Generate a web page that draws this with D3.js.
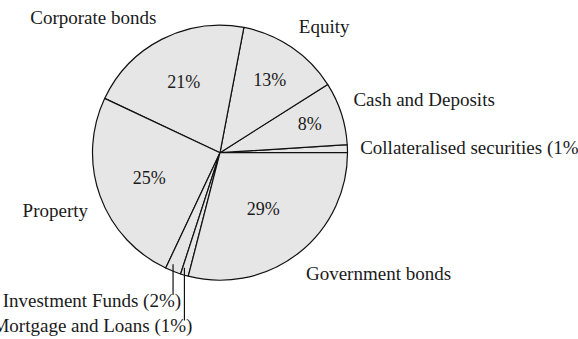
<!DOCTYPE html>
<html>
<head>
<meta charset="utf-8">
<script src="https://cdn.jsdelivr.net/npm/d3@7"></script>
<style>
  html, body { margin: 0; padding: 0; background: #fff; }
  svg { display: block; }
  text { font-family: "Liberation Serif", "Times New Roman", serif; fill: #1a1a1a; }
</style>
</head>
<body>
<svg id="chart" width="578" height="339"></svg>
<script>
// Slices in drawing order (counter-clockwise, starting at 3 o'clock)
const categories = [
  'Collateralised securities',
  'Cash and Deposits',
  'Equity',
  'Corporate bonds',
  'Property',
  'Investment Funds',
  'Mortgage and Loans',
  'Government bonds'
];
const shares = [1, 8, 13, 21, 25, 2, 1, 29];

const cx = 220, cy = 152.7, R = 127.5;

const svg = d3.select('#chart');
const g = svg.append('g').attr('transform', `translate(${cx},${cy})`);

const pie = d3.pie()
  .sort(null)
  .value(d => d.v)
  .startAngle(Math.PI / 2)
  .endAngle(Math.PI / 2 - 2 * Math.PI);

const arcs = pie(categories.map((c, i) => ({name: c, v: shares[i]})));
const arc = d3.arc().innerRadius(0).outerRadius(R);

const mid = d => (d.startAngle + d.endAngle) / 2;
const isSmall = d => d.data.v < 5;
const clamp = v => Math.max(-1, Math.min(1, v));

// Slices
g.append('g')
  .selectAll('path')
  .data(arcs)
  .join('path')
  .attr('d', arc)
  .attr('fill', '#e6e6e6')
  .attr('stroke', '#111')
  .attr('stroke-width', 1.2)
  .attr('stroke-linejoin', 'round');

// Percentages inside the big slices
g.append('g')
  .selectAll('text')
  .data(arcs.filter(d => !isSmall(d)))
  .join('text')
  .attr('x', d => R * (0.81 - 0.0088 * d.data.v) * Math.sin(mid(d)))
  .attr('y', d => -R * (0.81 - 0.0088 * d.data.v) * Math.cos(mid(d)))
  .attr('dy', '0.35em')
  .attr('text-anchor', 'middle')
  .style('font-size', '18px')
  .text(d => d.data.v + '%');

const labelText = d => isSmall(d) ? `${d.data.name} (${d.data.v}%)` : d.data.name;
const pinned = arcs.filter(d => isSmall(d) && Math.cos(mid(d)) < -0.5);
const plain = arcs.filter(d => pinned.indexOf(d) < 0);

// Outer labels
g.append('g')
  .selectAll('text')
  .data(plain)
  .join('text')
  .attr('x', d => 1.1 * R * Math.sin(mid(d)))
  .attr('y', d => -1.1 * R * Math.cos(mid(d)) - 10 * clamp(4 * Math.cos(mid(d))))
  .attr('dy', '0.35em')
  .attr('text-anchor', d => Math.sin(mid(d)) > 0 ? 'start' : 'end')
  .style('font-size', '19px')
  .text(labelText);

// Small slices at the bottom get a leader line
const pinY = (d, i) => R * 1.155 + i * 25.5;
const pins = g.append('g').selectAll('g').data(pinned).join('g');
pins.append('line')
  .attr('x1', d => R * Math.sin(mid(d)))
  .attr('x2', d => R * Math.sin(mid(d)))
  .attr('y1', d => -0.94 * R * Math.cos(mid(d)))
  .attr('y2', (d, i) => pinY(d, i) - 5)
  .attr('stroke', '#111')
  .attr('stroke-width', 1.2);
pins.append('text')
  .attr('x', d => R * Math.sin(mid(d)) + 8)
  .attr('y', (d, i) => pinY(d, i))
  .attr('dy', '0.35em')
  .attr('text-anchor', 'end')
  .style('font-size', '19px')
  .text(labelText);
</script>
</body>
</html>
